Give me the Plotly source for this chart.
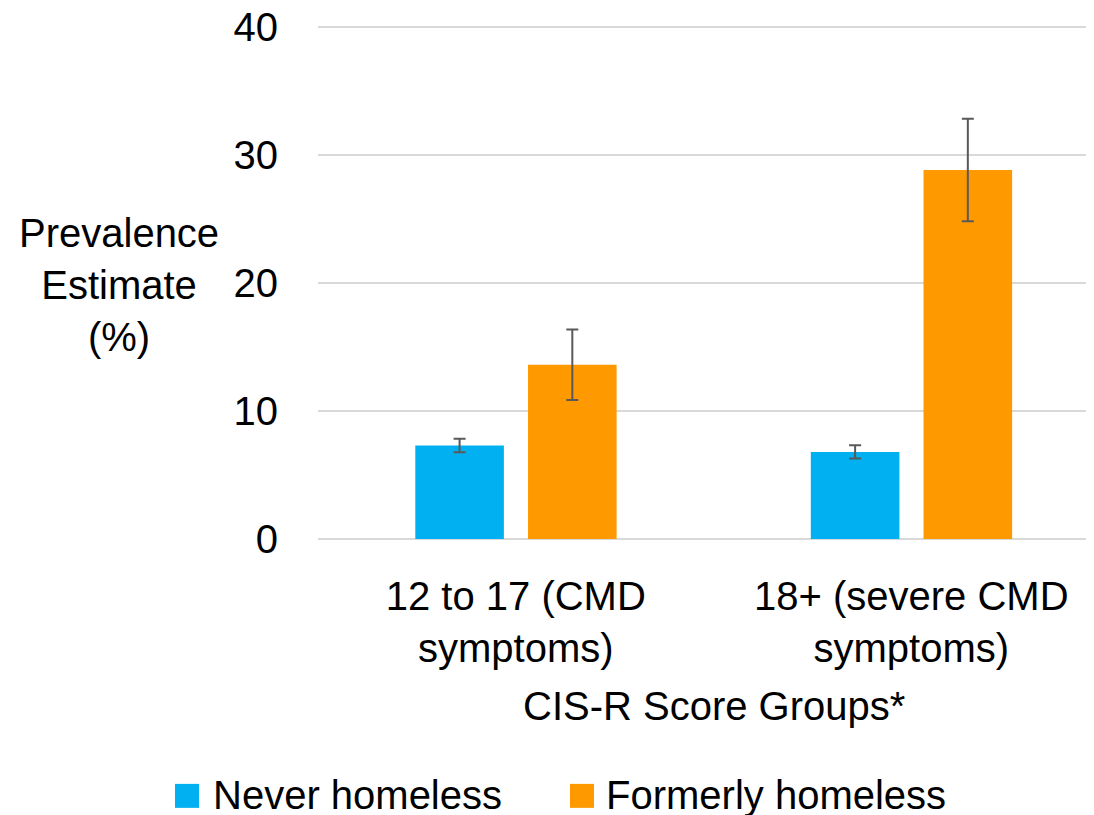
import plotly.graph_objects as go

# ---- data ----
categories = ["12 to 17 (CMD<br>symptoms)", "18+ (severe CMD<br>symptoms)"]
series_names = ["Never homeless", "Formerly homeless"]
never_homeless = [7.3, 6.8]
never_homeless_err = [0.52, 0.51]
formerly_homeless = [13.6, 28.8]
formerly_homeless_err = [2.75, 4.0]
y_ticks = [0, 10, 20, 30, 40]

colors = ["#00B0F0", "#FF9900"]
FONT = "Liberation Sans, Arial, sans-serif"
FS = 40

OFF = 8  # page body margin offset
W, H = 1094 - OFF, 815 - OFF
Y0_PX = 539 - OFF          # pixel of y=0
Y40_PX = 26.3 - OFF        # pixel of y=40
YMAX = 40.2
PH = (Y0_PX - Y40_PX) * YMAX / 40
L, R = 318 - OFF, 0
B = H - Y0_PX
T = H - B - PH
PW = W - L - R

def px_x(px):
    return (px - OFF - L) / PW

def px_y(py):
    return (Y0_PX - (py - OFF)) / PH

fig = go.Figure()
fig.add_trace(go.Bar(
    x=categories, y=never_homeless, name=series_names[0],
    marker=dict(color=colors[0], line=dict(width=0)),
    width=0.224, offset=-0.254,
    error_y=dict(type="data", array=never_homeless_err, color="#595959",
                 thickness=2, width=6),
    showlegend=False,
))
fig.add_trace(go.Bar(
    x=categories, y=formerly_homeless, name=series_names[1],
    marker=dict(color=colors[1], line=dict(width=0)),
    width=0.224, offset=0.031,
    error_y=dict(type="data", array=formerly_homeless_err, color="#595959",
                 thickness=2, width=6),
    showlegend=False,
))

fig.update_layout(
    width=W, height=H,
    margin=dict(l=L, r=R, t=T, b=B, pad=0, autoexpand=False),
    paper_bgcolor="white", plot_bgcolor="white",
    barmode="overlay",
    font=dict(family=FONT, size=FS, color="black"),
    showlegend=False,
    xaxis=dict(
        type="category", range=[-0.5, 1.462], automargin=False,
        showgrid=False, zeroline=False, showline=False,
        ticks="", ticklabelstandoff=30,
        tickfont=dict(family=FONT, size=FS, color="black"),
    ),
    yaxis=dict(
        range=[0, YMAX], tickvals=y_ticks, ticktext=[str(v) for v in y_ticks],
        automargin=False,
        showgrid=True, gridcolor="#D9D9D9", gridwidth=2,
        zeroline=True, zerolinecolor="#D9D9D9", zerolinewidth=2,
        showline=False, ticks="", ticklabelstandoff=39,
        ticklabeloverflow="allow",
        tickfont=dict(family=FONT, size=FS, color="black"),
    ),
)

# y-axis title (horizontal, three lines)
fig.add_annotation(
    text="Prevalence<br>Estimate<br>(%)", xref="paper", yref="paper",
    x=px_x(119), y=px_y(285), xanchor="center", yanchor="middle",
    showarrow=False, align="center",
    font=dict(family=FONT, size=FS, color="black"),
)
# x-axis title
fig.add_annotation(
    text="CIS-R Score Groups*", xref="x", yref="paper",
    x=0.5, y=px_y(706), xanchor="center", yanchor="middle",
    showarrow=False, font=dict(family=FONT, size=FS, color="black"),
)

# manual legend
legend_items = [(175, 211), (570, 604)]
for (sq_x, tx_x), name, col in zip(legend_items, series_names, colors):
    fig.add_shape(type="rect", xref="paper", yref="paper",
                  x0=px_x(sq_x), x1=px_x(sq_x + 24),
                  y0=px_y(808), y1=px_y(784),
                  fillcolor=col, line=dict(width=0))
    fig.add_annotation(
        text=name, xref="paper", yref="paper",
        x=px_x(tx_x), y=px_y(795), xanchor="left", yanchor="middle",
        showarrow=False, font=dict(family=FONT, size=FS, color="black"),
    )

fig.write_html("out.html")
